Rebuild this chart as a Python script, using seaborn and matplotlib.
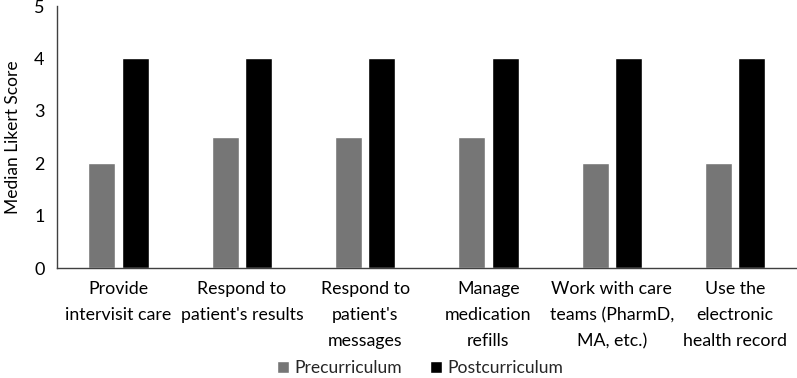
import matplotlib
matplotlib.use("Agg")
import matplotlib.pyplot as plt
import matplotlib.transforms as mtransforms
import seaborn as sns
import pandas as pd

categories = [
    "Provide\nintervisit care",
    "Respond to\npatient's results",
    "Respond to\npatient's\nmessages",
    "Manage\nmedication\nrefills",
    "Work with care\nteams (PharmD,\nMA, etc.)",
    "Use the\nelectronic\nhealth record",
]
pre = [2, 2.5, 2.5, 2.5, 2, 2]
post = [4, 4, 4, 4, 4, 4]
series = ["Precurriculum", "Postcurriculum"]
colors = ["#767676", "#000000"]

df = pd.DataFrame({
    "cat": categories * 2,
    "val": pre + post,
    "series": [series[0]] * len(categories) + [series[1]] * len(categories),
})

sns.set_style("white")
plt.rcParams["font.family"] = ["Lato", "DejaVu Sans"]

fig = plt.figure(figsize=(7.97, 3.78), dpi=100)
ax = fig.add_axes([0.0715, 0.291, 0.928, 0.693])
sns.barplot(data=df, x="cat", y="val", hue="series", palette=colors,
            width=0.54, gap=0.19, ax=ax, saturation=1)

ax.set_ylim(0, 5)
ax.set_xlim(-0.5, len(categories) - 0.5)
ax.set_yticks([0, 1, 2, 3, 4, 5])
ax.tick_params(axis="y", length=0, labelsize=13, pad=9, colors="#000000")
ax.tick_params(axis="x", length=0, labelbottom=False)
ax.set_xlabel("")
ax.set_ylabel("Median Likert Score", fontsize=12.5, color="#000000", labelpad=9)

trans = mtransforms.blended_transform_factory(ax.transData, ax.transAxes)
offset = mtransforms.ScaledTranslation(0, -9.5 / 72, fig.dpi_scale_trans)
for i, lab in enumerate(categories):
    ax.text(i, 0, lab, transform=trans + offset, ha="center", va="top",
            fontsize=12.8, linespacing=1.78, color="#000000")

for s in ["top", "right"]:
    ax.spines[s].set_visible(False)
for s in ["left", "bottom"]:
    ax.spines[s].set_color("#404040")
    ax.spines[s].set_linewidth(1.0)

ax.legend(loc="center", bbox_to_anchor=(0.527, 0.027), bbox_transform=fig.transFigure,
          ncol=2, frameon=False, fontsize=12.6, handlelength=0.7, handleheight=0.7,
          handletextpad=0.3, columnspacing=1.6, borderpad=0.1)

fig.savefig("out.png", dpi=100)
